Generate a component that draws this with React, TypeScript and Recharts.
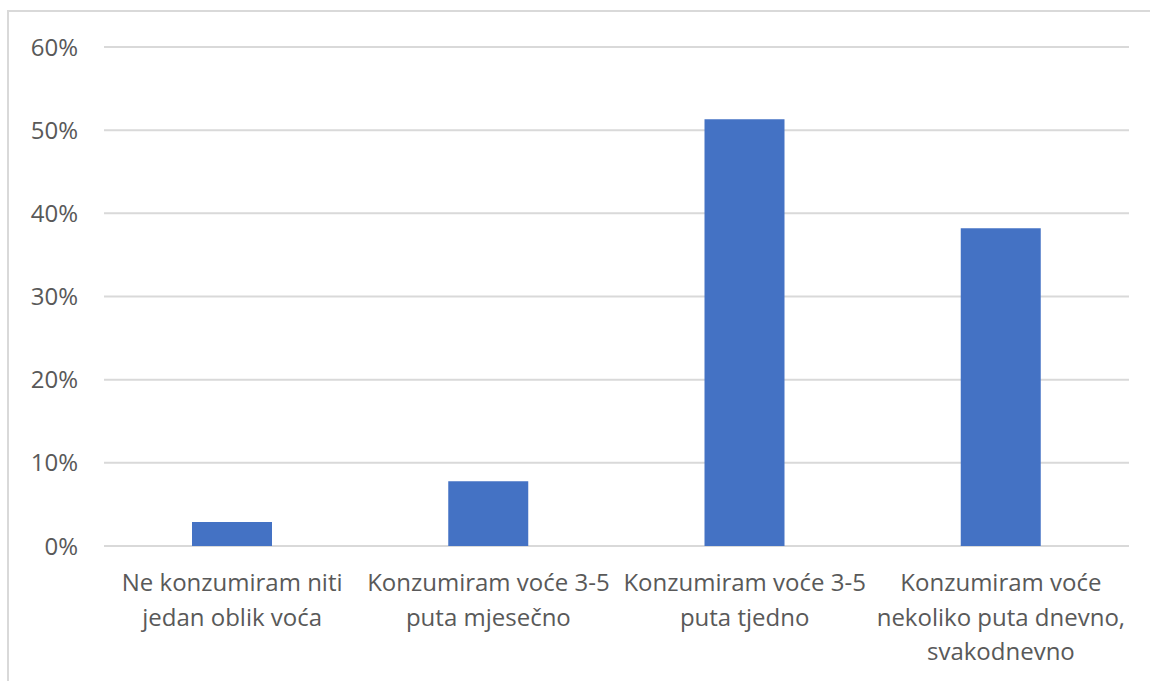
import React from "react";
import { BarChart, Bar, XAxis, YAxis, CartesianGrid } from "recharts";

const categories = [
  "Ne konzumiram niti jedan oblik voća",
  "Konzumiram voće 3-5 puta mjesečno",
  "Konzumiram voće 3-5 puta tjedno",
  "Konzumiram voće nekoliko puta dnevno, svakodnevno",
];
const tickLabelLines = [
  ["Ne konzumiram niti", "jedan oblik voća"],
  ["Konzumiram voće 3-5", "puta mjesečno"],
  ["Konzumiram voće 3-5", "puta tjedno"],
  ["Konzumiram voće", "nekoliko puta dnevno,", "svakodnevno"],
];
const values = [2.9, 7.8, 51.3, 38.2];
const yTicks = [0, 10, 20, 30, 40, 50, 60];

const data = categories.map((c, i) => ({ name: c, value: values[i], idx: i }));

const FONT = "'Open Sans', sans-serif";
const TEXT_COLOR = "#595959";
const FONT_SIZE = 24;

const CategoryTick = (props: any) => {
  const { x, y, index } = props;
  const lines = tickLabelLines[index] || [];
  return (
    <text
      x={x}
      y={y}
      textAnchor="middle"
      fill={TEXT_COLOR}
      fontFamily={FONT}
      fontSize={FONT_SIZE}
    >
      {lines.map((l, i) => (
        <tspan key={i} x={x} dy={i === 0 ? 45 : 34.5}>
          {l}
        </tspan>
      ))}
    </text>
  );
};

export default function App() {
  return (
    <div
      style={{
        position: "fixed",
        left: 0,
        top: 0,
        width: 1150,
        height: 681,
        background: "#ffffff",
        overflow: "hidden",
      }}
    >
      <div
        style={{
          position: "absolute",
          left: 7,
          top: 10,
          width: 1143,
          height: 671,
          boxSizing: "border-box",
          borderLeft: "2px solid #d9d9d9",
          borderTop: "2px solid #d9d9d9",
        }}
      />
      <div style={{ position: "absolute", left: 0, top: 0 }}>
        <BarChart
          width={1150}
          height={681}
          data={data}
          margin={{ top: 47, right: 21, bottom: 0, left: 0 }}
          barSize={80}
        >
          <CartesianGrid
            vertical={false}
            stroke="#d9d9d9"
            strokeWidth={2}
          />
          <XAxis
            dataKey="name"
            axisLine={false}
            tickLine={false}
            tickSize={0}
            tickMargin={0}
            interval={0}
            tick={<CategoryTick />}
            height={135}
          />
          <YAxis
            domain={[0, 60]}
            ticks={yTicks}
            width={104}
            axisLine={false}
            tickLine={false}
            tickSize={0}
            tickMargin={26}
            tickFormatter={(v: number) => `${v}%`}
            tick={{ fill: TEXT_COLOR, fontFamily: FONT, fontSize: FONT_SIZE }}
            interval={0}
          />
          <Bar dataKey="value" fill="#4472C4" isAnimationActive={false} />
        </BarChart>
      </div>
    </div>
  );
}
